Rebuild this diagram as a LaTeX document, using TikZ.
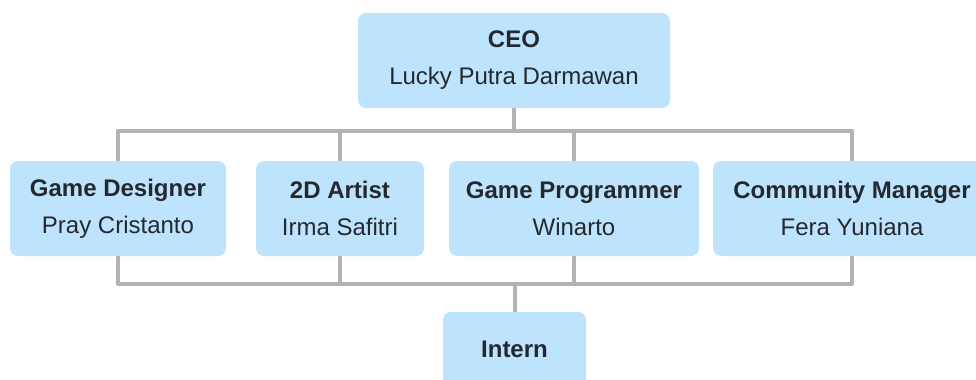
\documentclass[tikz,border=0pt]{standalone}
\usepackage{fontspec}
\setmainfont{Liberation Sans}
\definecolor{boxblue}{HTML}{BEE3FC}
\definecolor{wiregray}{HTML}{B3B3B3}
\definecolor{ink}{HTML}{24292F}
\tikzset{
  box/.style={fill=boxblue,rounded corners=6pt,inner sep=0pt,outer sep=0pt,align=center,text=ink,
    minimum height=71.25pt,font=\fontsize{18}{27.75}\selectfont},
  wire/.style={draw=wiregray,line width=3pt,line join=round}
}
\begin{document}
\begin{tikzpicture}[x=0.75pt,y=-0.75pt]
            \useasboundingbox (0,0) rectangle (976,379);
            \clip (0,0) rectangle (976,379);
            \node[box,minimum width=234pt](ceo) at (514,60.5) {\textbf{CEO}\\Lucky Putra Darmawan};
            \node[box,minimum width=162pt](gd) at (118,208.5) {\textbf{Game Designer}\\Pray Cristanto};
            \node[box,minimum width=126pt](art) at (340,208.5) {\textbf{2D Artist}\\Irma Safitri};
            \node[box,minimum width=187.5pt](prog) at (574,208.5) {\textbf{Game Programmer}\\Winarto};
            \node[box,minimum width=208.5pt](cm) at (852,208.5) {\textbf{Community Manager}\\Fera Yuniana};
            \node[box,minimum width=107.25pt,minimum height=56.25pt](intern) at (514.5,349.5) {\textbf{Intern}};

            \draw[wire] (ceo.south) -- ++(0,23) coordinate(top);
            \foreach \n in {gd,art,prog,cm}
              \draw[wire] (top) -| (\n.north);
            \draw[wire] (intern.north) -- ++(0,-28) coordinate(bottom);
            \foreach \n in {gd,art,prog,cm}
              \draw[wire] (\n.south) |- (bottom);
          \end{tikzpicture}
\end{document}
